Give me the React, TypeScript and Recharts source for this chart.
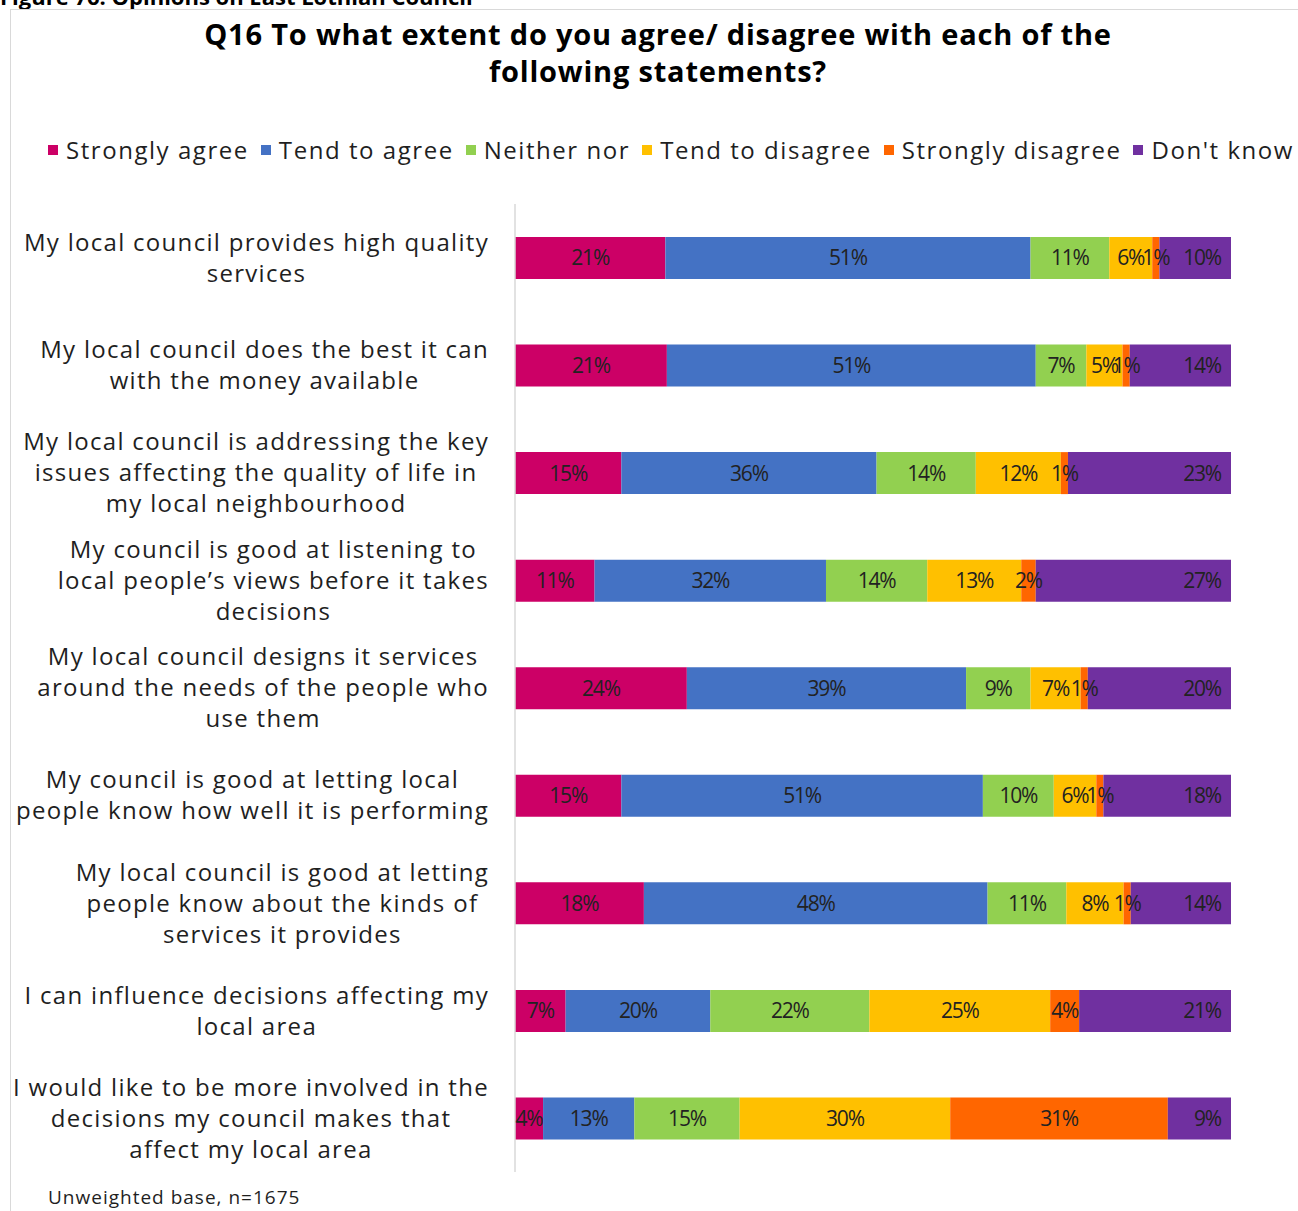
import { Bar, BarChart, LabelList, XAxis, YAxis } from "recharts";

const statements: string[][] = [
  ["My local council provides high quality", "services"],
  ["My local council does the best it can", "with the money available"],
  ["My local council is addressing the key", "issues affecting the quality of life in", "my local neighbourhood"],
  ["My council is good at listening to", "local people\u2019s views before it takes", "decisions"],
  ["My local council designs it services", "around the needs of the people who", "use them"],
  ["My council is good at letting local", "people know how well it is performing"],
  ["My local council is good at letting", "people know about the kinds of", "services it provides"],
  ["I can influence decisions affecting my", "local area"],
  ["I would like to be more involved in the", "decisions my council makes that", "affect my local area"]
];

const stronglyAgree = [21, 21, 15, 11, 24, 15, 18, 7, 4];
const tendToAgree = [51, 51, 36, 32, 39, 51, 48, 20, 13];
const neitherNor = [11, 7, 14, 14, 9, 10, 11, 22, 15];
const tendToDisagree = [6, 5, 12, 13, 7, 6, 8, 25, 30];
const stronglyDisagree = [1, 1, 1, 2, 1, 1, 1, 4, 31];
const dontKnow = [10, 14, 23, 27, 20, 18, 14, 21, 9];

const series = [
  { key: "sa", name: "Strongly agree", color: "#CC0066", values: stronglyAgree },
  { key: "ta", name: "Tend to agree", color: "#4472C4", values: tendToAgree },
  { key: "nn", name: "Neither nor", color: "#92D050", values: neitherNor },
  { key: "td", name: "Tend to disagree", color: "#FFC000", values: tendToDisagree },
  { key: "sd", name: "Strongly disagree", color: "#FF6600", values: stronglyDisagree },
  { key: "dk", name: "Don't know", color: "#7030A0", values: dontKnow }
];

const data = statements.map((lines, i) => {
  const row: Record<string, string | number> = { name: lines.join(" ") };
  series.forEach((s) => {
    row[s.key] = s.values[i];
  });
  return row;
});

const FONT = "'Open Sans', sans-serif";
const LABEL_SIZE = 24;
const LABEL_SPACING = 1.3;

const ctx = typeof document !== "undefined" ? document.createElement("canvas").getContext("2d") : null;
function measure(text: string) {
  if (!ctx) return text.length * 13;
  ctx.font = `${LABEL_SIZE}px 'Open Sans'`;
  return ctx.measureText(text).width + text.length * LABEL_SPACING;
}

function StatementTick(props: any) {
  const { x, y, index } = props;
  const lines = statements[index] ?? [String(props.payload?.value ?? "")];
  const blockWidth = Math.max(...lines.map(measure));
  const right = x - 24;
  const cx = right - blockWidth / 2;
  const lineHeight = 31;
  return (
    <text
      x={cx}
      y={y}
      textAnchor="middle"
      fill="#1f1f1f"
      fontSize={LABEL_SIZE}
      fontFamily={FONT}
      letterSpacing={LABEL_SPACING}
    >
      {lines.map((line, i) => (
        <tspan key={i} x={cx} y={y + (i - (lines.length - 1) / 2) * lineHeight} dy="0.35em">
          {line}
        </tspan>
      ))}
    </text>
  );
}

export default function App() {
  return (
    <div
      style={{
        position: "absolute",
        left: 0,
        top: 0,
        width: 1298,
        height: 1211,
        overflow: "hidden",
        background: "#fff",
        fontFamily: FONT
      }}
    >
      <div style={{ position: "absolute", left: 0, top: -19, fontSize: 22, fontWeight: 700, color: "#000", whiteSpace: "nowrap" }}>
        Figure 76: Opinions on East Lothian Council
      </div>
      <div
        style={{
          position: "absolute",
          left: 10,
          top: 9,
          width: 1320,
          height: 1240,
          border: "1.5px solid #d9d9d9"
        }}
      />
      <div
        style={{
          position: "absolute",
          left: 10,
          top: 15,
          width: 1296,
          textAlign: "center",
          fontSize: 29,
          fontWeight: 700,
          letterSpacing: 0.8,
          lineHeight: "37px",
          color: "#000"
        }}
      >
        Q16 To what extent do you agree/ disagree with each of the
        <br />
        following statements?
      </div>
      <div
        style={{
          position: "absolute",
          left: 48,
          top: 134,
          display: "flex",
          alignItems: "center",
          whiteSpace: "nowrap",
          fontSize: 24,
          letterSpacing: 1.55,
          lineHeight: "32px",
          color: "#1f1f1f"
        }}
      >
        {series.map((s) => (
          <div key={s.key} style={{ display: "flex", alignItems: "center", marginRight: 12 }}>
            <span style={{ width: 10, height: 10, background: s.color, marginRight: 8, display: "inline-block" }} />
            <span>{s.name}</span>
          </div>
        ))}
      </div>
      <div style={{ position: "absolute", left: 0, top: 0 }}>
        <BarChart
          width={1298}
          height={1211}
          data={data}
          layout="vertical"
          stackOffset="expand"
          margin={{ top: 204, right: 67, bottom: 39, left: 0 }}
        >
          <XAxis type="number" hide />
          <YAxis
            type="category"
            dataKey="name"
            width={515}
            tickLine={false}
            tickSize={0}
            axisLine={{ stroke: "#d9d9d9", strokeWidth: 1.5 }}
            tick={<StatementTick />}
            interval={0}
          />
          {series.map((s) => (
            <Bar key={s.key} dataKey={s.key} name={s.name} stackId="a" fill={s.color} barSize={42} isAnimationActive={false}>
              <LabelList
                dataKey={s.key}
                position={s.key === "dk" ? "insideRight" : "center"}
                offset={10}
                formatter={(v: any) => `${v}%`}
                fill="#222"
                fontSize={21}
                fontFamily={FONT}
                letterSpacing={-1.2}
              />
            </Bar>
          ))}
        </BarChart>
      </div>
      <div style={{ position: "absolute", left: 48, top: 1184, fontSize: 19, letterSpacing: 1, color: "#1f1f1f" }}>
        Unweighted base, n=1675
      </div>
    </div>
  );
}
